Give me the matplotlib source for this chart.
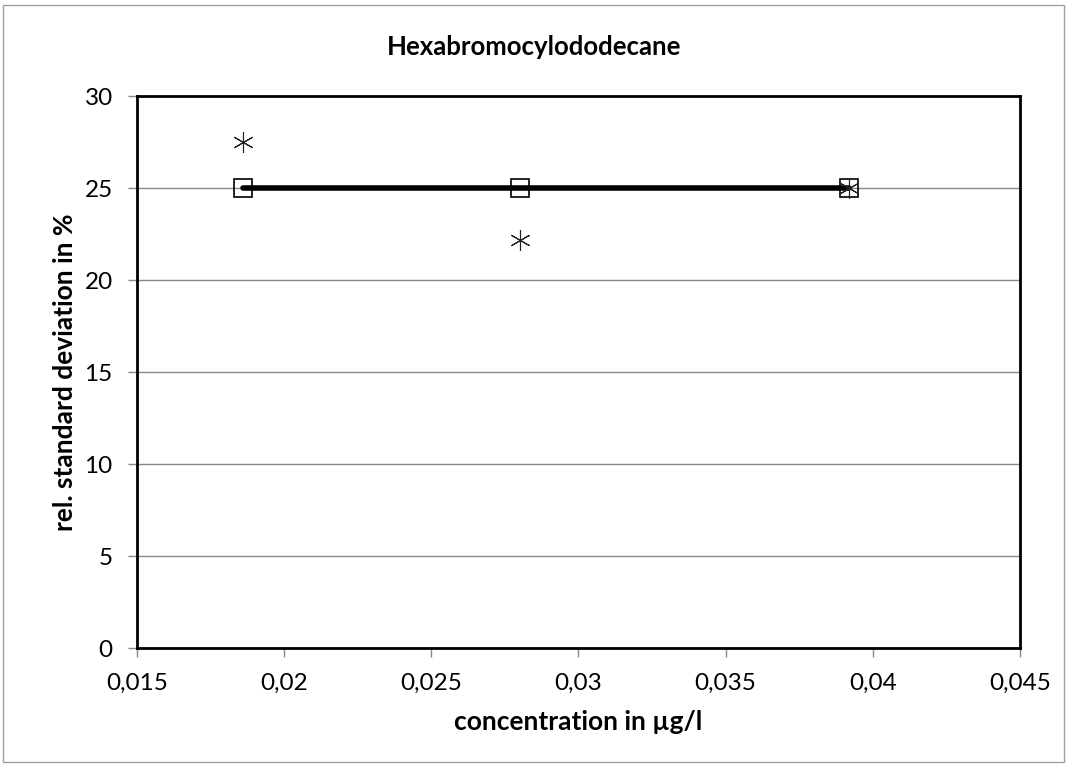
import numpy as np
import matplotlib.pyplot as plt
from matplotlib.patches import Rectangle
from matplotlib.ticker import FuncFormatter

# concentration in ug/l
conc = [0.0186, 0.028, 0.0392]
rsd_line = [25, 25, 25]
rsd_measured = [27.5, 22.2, 25.0]

plt.rcParams['font.family'] = ['Lato', 'DejaVu Sans']

fig = plt.figure(figsize=(10.68, 7.67), dpi=100)
ax = fig.add_axes([0.1283, 0.1551, 0.8267, 0.7197])

# outer chart border
fig.patches.append(Rectangle((0.003, 0.006), 0.993, 0.988, transform=fig.transFigure,
                             fill=False, edgecolor='#a0a0a0', linewidth=1))

ax.plot(conc, rsd_line, color='black', linewidth=4, solid_capstyle='round', zorder=3,
        marker='s', markersize=13, markerfacecolor='none', markeredgecolor='black',
        markeredgewidth=1.2)
ax.plot(conc, rsd_measured, linestyle='none', marker=(6, 2, 0), markersize=15,
        color='#222222', markeredgewidth=0.8, zorder=4)

ax.set_xlim(0.015, 0.045)
ax.set_ylim(0, 30)
ax.set_xticks(np.arange(0.015, 0.0451, 0.005))
ax.set_yticks(range(0, 31, 5))
ax.xaxis.set_major_formatter(FuncFormatter(lambda v, p: ('%g' % round(v, 4)).replace('.', ',')))
ax.yaxis.grid(True, color='#888888', linewidth=1)
ax.set_axisbelow(True)
ax.tick_params(direction='out', length=6.5, color='#888888', labelsize=17.5, width=1, pad=11)
for s in ax.spines.values():
    s.set_linewidth(2)
    s.set_color('black')

fig.text(0.5, 1 - 47 / 767, 'Hexabromocylododecane', fontsize=18.5, fontweight='bold',
         ha='center', va='center')
ax.set_xlabel('concentration in µg/l', fontsize=19, fontweight='bold')
ax.set_ylabel('rel. standard deviation in %', fontsize=19, fontweight='bold')
ax.xaxis.set_label_coords(0.5, -0.112)
ax.yaxis.set_label_coords(-0.068, 0.5)

fig.savefig('out.png', dpi=100)
